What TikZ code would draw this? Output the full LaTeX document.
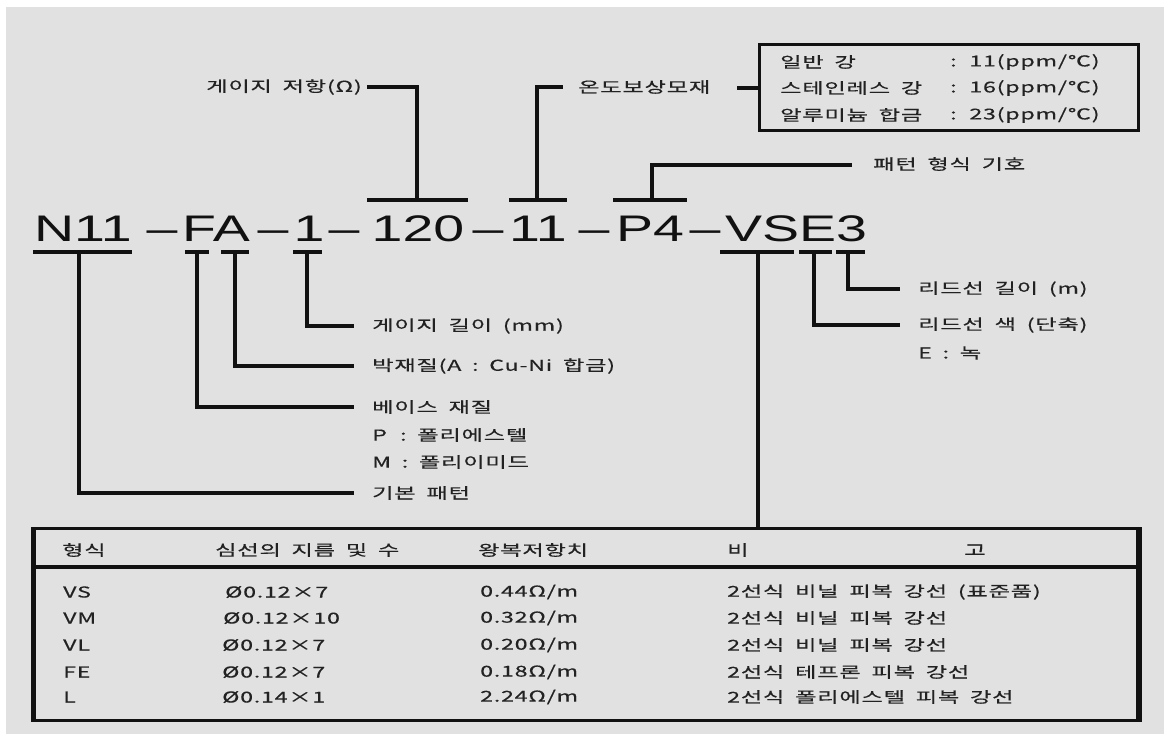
\documentclass[tikz,border=0pt]{standalone}
\usepackage{fontspec}
\newfontfamily\kr[FakeStretch=1.55,LetterSpace=5,WordSpace=1.8,FakeBold=0.4]{Noto Sans CJK KR}
\newfontfamily\codefont[FakeStretch=1.5]{Liberation Sans}
\definecolor{panel}{HTML}{E1E1E1}
\definecolor{ink}{HTML}{111111}
\definecolor{lbltext}{HTML}{222222}
\tikzset{
  lbl/.style={anchor=west, inner sep=0pt, font=\kr\fontsize{15}{18}\selectfont, text=lbltext},
  lble/.style={lbl, anchor=east},
  lblc/.style={lbl, anchor=center},
  tok/.style={anchor=base, inner sep=0pt, font=\codefont\fontsize{37}{40}\selectfont, text=ink},
  bar/.style={line width=4.2pt, draw=ink},
  lead/.style={line width=3.2pt, draw=ink},
}
\begin{document}
\begin{tikzpicture}[x=1pt,y=-1pt]
\useasboundingbox (0,0) rectangle (1164,734);
\fill[white] (0,0) rectangle (1164,734);
\fill[panel] (6,7) rectangle (1164,734);

% main code
\node[tok] (tN)   at (83,241)  {N11};
\node[tok] (d1)   at (162,241) {–};
\node[tok] (tFA)  at (216,241) {FA};
\node[tok] (d2)   at (273,241) {–};
\node[tok] (t1)   at (309,241) {1};
\node[tok] (d3)   at (344,241) {–};
\node[tok] (t120) at (418,241) {120};
\node[tok] (d4)   at (488,241) {–};
\node[tok] (t11)  at (538,241) {11};
\node[tok] (d5)   at (594,241) {–};
\node[tok] (tP4)  at (650,241) {P4};
\node[tok] (d6)   at (705,241) {–};
\node[tok] (tV)   at (796,241) {VSE3};

% bars under / over the code
\draw[bar] (33,252) -- (132,252);
\draw[bar] (185,252) -- (209,252);
\draw[bar] (221,252) -- (249,252);
\draw[bar] (293,252) -- (322,252);
\draw[bar] (720,252) -- (794,252);
\draw[bar] (799,252) -- (832,252);
\draw[bar] (836,252) -- (865,252);
\draw[bar] (367,200) -- (468,200);
\draw[bar] (509,200) -- (567,200);
\draw[bar] (613,200) -- (687,200);

\coordinate (bN) at (79,252);
\coordinate (bF) at (197,252);
\coordinate (bA) at (235,252);
\coordinate (b1) at (307,252);
\coordinate (bVS) at (758,252);
\coordinate (bE) at (814,252);
\coordinate (b3) at (848,252);
\coordinate (b120) at (417,200);
\coordinate (b11) at (537,200);
\coordinate (bP4) at (652,200);

% top labels
\node[lble] (Lres) at (362,87) {게이지 저항(Ω)};
\coordinate (Lres-end) at (367,87);
\draw[lead] (b120) |- (Lres-end);

\node[lbl] (Ltemp) at (578,87) {온도보상모재};
\coordinate (Ltemp-end) at (563,87);
\draw[lead] (b11) |- (Ltemp-end);

\node[draw=ink, line width=3.4pt, minimum width=379pt, minimum height=86pt, inner sep=0pt, anchor=north west] (box) at (758,43) {};
\coordinate (Ltemp-out) at (737,88);
\draw[lead] (Ltemp-out) -- (Ltemp-out -| box.west);
\node[lbl] (k1) at (780,62)  {일반 강};
\node[lbl] (k2) at (780,88)  {스테인레스 강};
\node[lbl] (k3) at (780,115) {알루미늄 합금};
\node[lbl] (v1) at (950,62)  {: 11(ppm/℃)};
\node[lbl] (v2) at (950,88)  {: 16(ppm/℃)};
\node[lbl] (v3) at (950,115) {: 23(ppm/℃)};

\node[lbl] (Lpat) at (873,164) {패턴 형식 기호};
\coordinate (Lpat-end) at (852,165);
\draw[lead] (bP4) |- (Lpat-end);

% left labels
\node[lbl] (Llen) at (372,326) {게이지 길이 (mm)};
\node[lbl] (Lfoil) at (372,366) {박재질(A : Cu-Ni 합금)};
\node[lbl] (Lbase) at (372,407) {베이스 재질};
\node[lbl] (Lbp) at (372,435) {P \,: 폴리에스텔};
\node[lbl] (Lbm) at (372,462) {M : 폴리이미드};
\node[lbl] (Lbasic) at (372,493) {기본 패턴};
\coordinate (Llen-end) at (354,326);
\coordinate (Lfoil-end) at (354,366);
\coordinate (Lbase-end) at (354,407);
\coordinate (Lbasic-end) at (354,493);
\draw[lead] (b1) |- (Llen-end);
\draw[lead] (bA) |- (Lfoil-end);
\draw[lead] (bF) |- (Lbase-end);
\draw[lead] (bN) |- (Lbasic-end);

% right labels
\node[lbl] (Lll) at (918,289) {리드선 길이 (m)};
\node[lbl] (Llc) at (918,325) {리드선 색 (단축)};
\node[lbl] (Lle) at (918,353) {E : 녹};
\coordinate (Lll-end) at (900,289);
\coordinate (Llc-end) at (900,325);
\draw[lead] (b3) |- (Lll-end);
\draw[lead] (bE) |- (Llc-end);

% table
\node[draw=ink, line width=3pt, minimum width=1103pt, minimum height=192pt, inner sep=0pt, anchor=north west] (tab) at (33,527) {};
\draw[line width=5pt, draw=ink] (tab.north west) -- (tab.south west);
\draw[line width=5pt, draw=ink] (tab.north east) -- (tab.south east);
\coordinate (hsepL) at (33,567);
\draw[line width=3.4pt, draw=ink] (hsepL) -- (hsepL -| tab.east);
\draw[lead] (bVS) -- (bVS |- tab.north);

\node[lbl] (h1) at (62,550) {형식};
\node[lbl] (h2) at (215,550) {심선의 지름 및 수};
\node[lbl] (h3) at (478,550) {왕복저항치};
\node[lbl] (h4) at (727,550) {비};
\node[lblc] (h5) at (975,550) {고};

\node[lbl] (r1a) at (63,592) {VS};
\node[lbl] (r1b) at (225,592) {Ø0.12×7};
\node[lbl] (r1c) at (480,592) {0.44Ω/m};
\node[lbl] (r1d) at (727,592) {2선식 비닐 피복 강선 (표준품)};

\node[lbl] (r2a) at (63,618) {VM};
\node[lbl] (r2b) at (223,618) {Ø0.12×10};
\node[lbl] (r2c) at (480,618) {0.32Ω/m};
\node[lbl] (r2d) at (727,618) {2선식 비닐 피복 강선};

\node[lbl] (r3a) at (63,645) {VL};
\node[lbl] (r3b) at (222,645) {Ø0.12×7};
\node[lbl] (r3c) at (480,645) {0.20Ω/m};
\node[lbl] (r3d) at (727,645) {2선식 비닐 피복 강선};

\node[lbl] (r4a) at (63,672) {FE};
\node[lbl] (r4b) at (222,672) {Ø0.12×7};
\node[lbl] (r4c) at (480,672) {0.18Ω/m};
\node[lbl] (r4d) at (727,672) {2선식 테프론 피복 강선};

\node[lbl] (r5a) at (63,697) {L};
\node[lbl] (r5b) at (222,697) {Ø0.14×1};
\node[lbl] (r5c) at (480,697) {2.24Ω/m};
\node[lbl] (r5d) at (727,697) {2선식 폴리에스텔 피복 강선};
\end{tikzpicture}
\end{document}
